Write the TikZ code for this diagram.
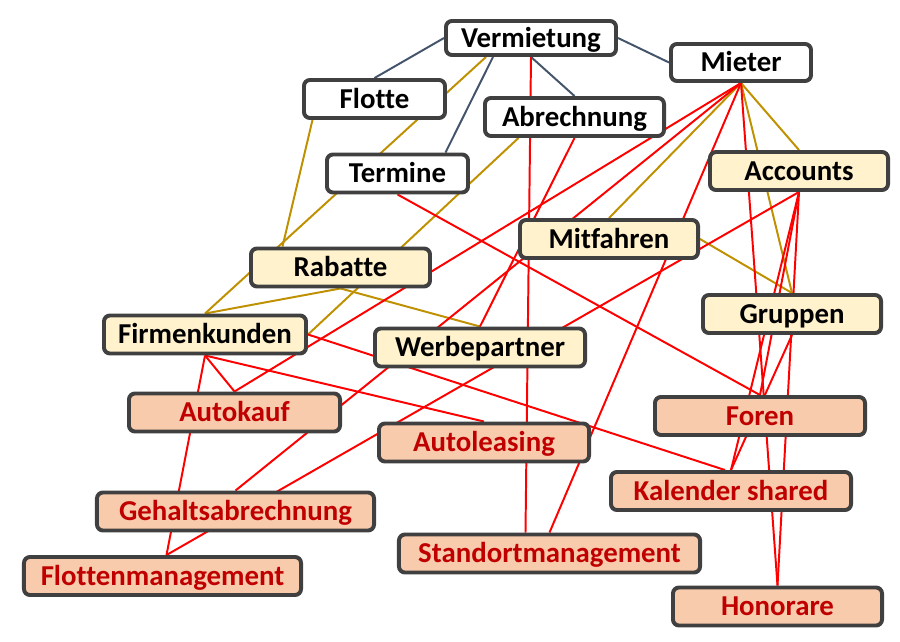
\documentclass[tikz,border=0pt]{standalone}
\usepackage{fontspec}
\setmainfont{Carlito}[Ligatures=NoCommon]
\usepackage{tikz}
\usetikzlibrary{backgrounds}

\definecolor{boxgray}{HTML}{404040}
\definecolor{cream}{HTML}{FFF2CC}
\definecolor{salmon}{HTML}{F8CBAD}
\definecolor{darkred}{HTML}{C00000}
\definecolor{slate}{HTML}{44546A}
\definecolor{gold}{HTML}{BF9000}
\definecolor{linered}{HTML}{FF0000}

\tikzset{
    box/.style={draw=boxgray, line width=2.8pt, rounded corners=0.15cm, inner sep=0pt,
        minimum height=0.95cm, text height=15pt, text depth=2pt,
        font=\fontsize{20.5}{24}\selectfont\bfseries},
    topbox/.style={box, fill=white},
    midbox/.style={box, fill=cream},
    lowbox/.style={box, fill=salmon, text=darkred},
    darkline/.style={draw=slate, line width=1.4pt},
    goldline/.style={draw=gold, line width=1.4pt},
    redline/.style={draw=linered, line width=1.4pt}
}

\begin{document}
\begin{tikzpicture}[x=0.025cm, y=-0.025cm]
    \useasboundingbox (0,0) rectangle (900,642);
    % Nodes
    \node[topbox, minimum width=4.25cm, minimum height=0.85cm] (vermietung) at (531,38) {Vermietung};
    \node[topbox, minimum width=3.5cm, minimum height=0.925cm] (mieter) at (741,62.5) {Mieter};
    \node[topbox, minimum width=3.525cm] (flotte) at (374.5,99) {Flotte};
    \node[topbox, minimum width=4.475cm] (abrechnung) at (574.5,117) {Abrechnung};
    \node[topbox, minimum width=3.525cm] (termine) at (397.5,173.5) {Termine};

    \node[midbox, minimum width=4.45cm] (accounts) at (799,171) {Accounts};
    \node[midbox, minimum width=4.45cm] (mitfahren) at (609,239) {Mitfahren};
    \node[midbox, minimum width=4.475cm] (rabatte) at (340.5,267.5) {Rabatte};
    \node[midbox, minimum width=4.45cm] (gruppen) at (792,314) {Gruppen};
    \node[midbox, minimum width=5.05cm] (firmenkunden) at (205,334.5) {Firmenkunden};
    \node[midbox, minimum width=5.25cm] (werbepartner) at (480,347.5) {Werbepartner};

    \node[lowbox, minimum width=5.275cm] (autokauf) at (234.5,412.5) {Autokauf};
    \node[lowbox, minimum width=5.25cm] (foren) at (760,416) {Foren};
    \node[lowbox, minimum width=5.25cm] (autoleasing) at (484,442.5) {Autoleasing};
    \node[lowbox, minimum width=6cm] (kalender) at (731,491) {Kalender shared};
    \node[lowbox, minimum width=6.925cm] (gehalt) at (235.5,511.5) {Gehaltsabrechnung};
    \node[lowbox, minimum width=7.525cm] (standort) at (549.5,553.5) {Standortmanagement};
    \node[lowbox, minimum width=6.925cm] (flottenm) at (162.5,576) {Flottenmanagement};
    \node[lowbox, minimum width=5.225cm] (honorare) at (777.5,606.5) {Honorare};

    % Lines
    \begin{scope}[on background layer]
    \draw[darkline] (vermietung.west) -- (flotte.north);
    \draw[darkline] ([xshift=-0.95cm]vermietung.south) -- ([xshift=1.2cm]termine.north);
    \draw[darkline] (vermietung.south) -- (abrechnung.north);
    \draw[darkline] (vermietung.east) -- (mieter.west);

    \draw[goldline] ([xshift=-1.125cm]vermietung.south) -- (firmenkunden.north);
    \draw[goldline] ([xshift=-1.55cm]flotte.south) -- ([xshift=-1.45cm]rabatte.north);
    \draw[goldline] ([xshift=-1.4cm]abrechnung.south) -- (firmenkunden.east);
    \draw[goldline] (rabatte.south) -- (firmenkunden.north);
    \draw[goldline] (rabatte.south) -- (werbepartner.north);
    \draw[goldline] (mieter.south) -- (mitfahren.north);
    \draw[goldline] (mieter.south) -- (accounts.north);
    \draw[goldline] (mieter.south) -- (gruppen.north);
    \draw[goldline] (mitfahren.east) -- (gruppen.north);

    \draw[redline] (vermietung.south) -- ([xshift=-0.6cm]standort.north);
    \draw[redline] (mieter.south) -- (autokauf.north);
    \draw[redline] (mieter.south) -- (gehalt.north);
    \draw[redline] (mieter.south) -- (standort.north);
    \draw[redline] (mieter.south) -- (honorare.north);
    \draw[redline] (abrechnung.south) -- (werbepartner.north);
    \draw[redline] (termine.south) -- (foren.north);
    \draw[redline] (accounts.south) -- ([xshift=0.1cm]flottenm.north);
    \draw[redline] (accounts.south) -- (kalender.north);
    \draw[redline] (accounts.south) -- (foren.north);
    \draw[redline] (accounts.south) -- (honorare.north);
    \draw[redline] (gruppen.south) -- (kalender.north);
    \draw[redline] (firmenkunden.south) -- ([xshift=0.1cm]flottenm.north);
    \draw[redline] (firmenkunden.south) -- (autokauf.north);
    \draw[redline] (firmenkunden.south) -- (autoleasing.north);
    \draw[redline] (firmenkunden.east) -- ([xshift=-0.15cm]kalender.north);
    \end{scope}
\end{tikzpicture}
\end{document}
